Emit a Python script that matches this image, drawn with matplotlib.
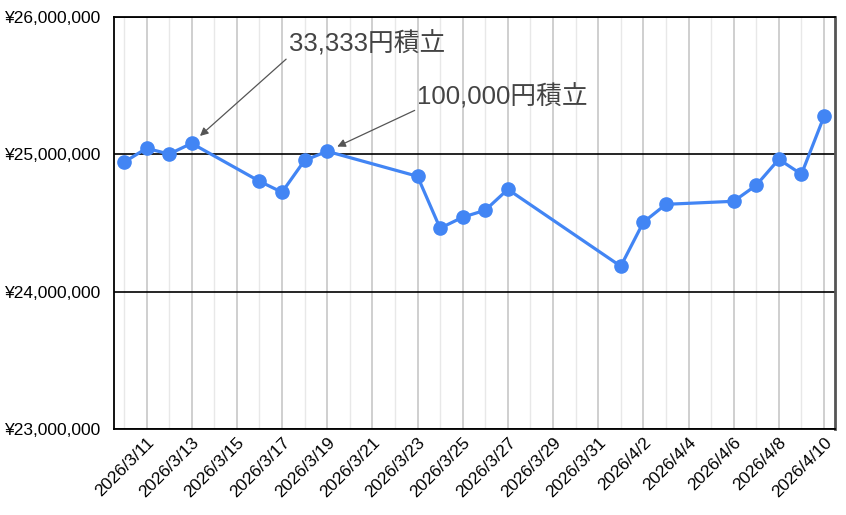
import datetime as dt
import matplotlib
matplotlib.use("Agg")
import matplotlib.pyplot as plt
import matplotlib.dates as mdates
from matplotlib.ticker import FuncFormatter

plt.rcParams['font.family'] = ['Liberation Sans', 'Noto Sans CJK JP', 'DejaVu Sans']

# data
dates = ["2026-03-10", "2026-03-11", "2026-03-12", "2026-03-13", "2026-03-16",
         "2026-03-17", "2026-03-18", "2026-03-19", "2026-03-23", "2026-03-24",
         "2026-03-25", "2026-03-26", "2026-03-27", "2026-04-01", "2026-04-02",
         "2026-04-03", "2026-04-06", "2026-04-07", "2026-04-08", "2026-04-09",
         "2026-04-10"]
values = [24942000, 25044000, 25002000, 25080000, 24804000,
          24724000, 24956000, 25022000, 24840000, 24462000,
          24542000, 24593000, 24745000, 24185000, 24505000,
          24636000, 24658000, 24775000, 24964000, 24855000,
          25276000]
y_ticks = [23000000, 24000000, 25000000, 26000000]
notes = [("2026-03-13", "33,333円積立"), ("2026-03-19", "100,000円積立")]

x = [dt.datetime.strptime(d, "%Y-%m-%d") for d in dates]

fig = plt.figure(figsize=(8.46, 5.15), dpi=100)
ax = fig.add_axes([0.1348, 0.167, 0.852, 0.8])

ax.plot(x, values, color="#4285F4", lw=2.3, marker="o", ms=9.5, zorder=3)

# axis ranges
ax.set_xlim(x[0] - dt.timedelta(hours=10.5), x[-1] + dt.timedelta(hours=11.5))
ax.set_ylim(y_ticks[0], y_ticks[-1])


def date_fmt(v, pos):
    d = mdates.num2date(v)
    return f"{d.year}/{d.month}/{d.day}"


# every day gets a light line, every 2nd day (from 3/11) a label
ax.xaxis.set_minor_locator(mdates.DayLocator())
start = dt.datetime(2026, 3, 11)
major = [start + dt.timedelta(days=2 * i) for i in range(16)]
ax.set_xticks(major)
ax.xaxis.set_major_formatter(FuncFormatter(date_fmt))
ax.tick_params(axis="x", which="both", length=0, labelsize=12.5, pad=4)
for lbl in ax.get_xticklabels():
    lbl.set_rotation(45)
    lbl.set_ha("right")
    lbl.set_rotation_mode("anchor")

ax.set_yticks(y_ticks)
ax.yaxis.set_major_formatter(FuncFormatter(lambda v, p: f"¥{int(v):,}"))
ax.tick_params(axis="y", length=0, labelsize=12.5, pad=9)

ax.grid(axis="x", which="major", color="#cccccc", lw=1.3, zorder=0)
ax.grid(axis="x", which="minor", color="#e8e8e8", lw=1.0, zorder=0)
ax.grid(axis="y", which="major", color="black", lw=1.2, zorder=1)

for s in ["left", "bottom", "top"]:
    ax.spines[s].set_color("black")
    ax.spines[s].set_linewidth(1.3)
ax.spines["right"].set_color("#555555")
ax.spines["right"].set_linewidth(2)

# annotations
offsets = [(70, 66), (65, 34)]
for (d, txt), off in zip(notes, offsets):
    xd = dt.datetime.strptime(d, "%Y-%m-%d")
    yd = values[x.index(xd)]
    ax.annotate(txt, xy=(xd, yd), xytext=off, textcoords="offset points",
                fontsize=18.5, color="#444444", ha="left", va="baseline",
                arrowprops=dict(arrowstyle="-|>", color="#555555", lw=0.9,
                                relpos=(0, 0), shrinkA=0, shrinkB=8,
                                mutation_scale=12),
                zorder=4)

fig.savefig("out.png", dpi=100)
